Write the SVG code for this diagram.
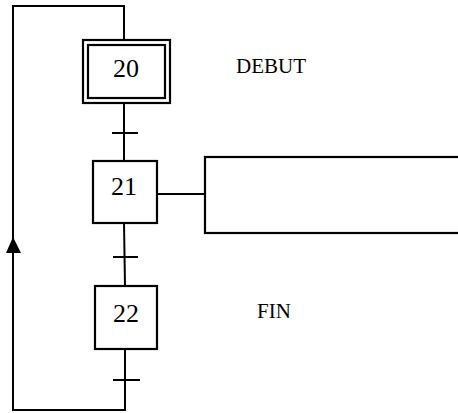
<svg xmlns="http://www.w3.org/2000/svg" width="458" height="413" viewBox="0 0 458 413">
<style>
.ln{fill:none;stroke:#000;stroke-width:2}
.box{fill:#fff;stroke:#000;stroke-width:2.2}
.num{font-family:"Liberation Serif",serif;font-size:26px;text-anchor:middle;fill:#000}
.lbl{font-family:"Liberation Serif",serif;font-size:21px;fill:#000}
</style>
<rect width="458" height="413" fill="#fff"/>
<g id="connectors">
<polyline class="ln" points="124,40 124,6 13,6 13,410 125,410 125,349"/>
<line class="ln" x1="124" y1="103" x2="124" y2="161"/>
<line class="ln" x1="124" y1="223" x2="125" y2="286"/>
<line class="ln" x1="157" y1="194" x2="205" y2="194"/>
<line class="ln" x1="112" y1="133" x2="138" y2="133"/>
<line class="ln" x1="113" y1="257" x2="138" y2="257"/>
<line class="ln" x1="113" y1="380" x2="140" y2="380"/>
<polygon points="13,237 6,253 21,253" fill="#000"/>
</g>
<g id="step20">
<rect class="box" x="83" y="40" width="87" height="63" stroke-width="2.8"/>
<rect class="box" x="88" y="45" width="77" height="53"/>
<text class="num" x="126" y="77">20</text>
</g>
<g id="label-debut"><text class="lbl" x="236" y="73">DEBUT</text></g>
<g id="step21">
<rect class="box" x="93" y="161" width="64" height="62"/>
<text class="num" x="124" y="195">21</text>
</g>
<g id="action21">
<rect class="box" x="205" y="157" width="262" height="76"/>
</g>
<g id="step22">
<rect class="box" x="95" y="286" width="62" height="63"/>
<text class="num" x="126" y="322">22</text>
</g>
<g id="label-fin"><text class="lbl" x="257" y="318">FIN</text></g>
</svg>
